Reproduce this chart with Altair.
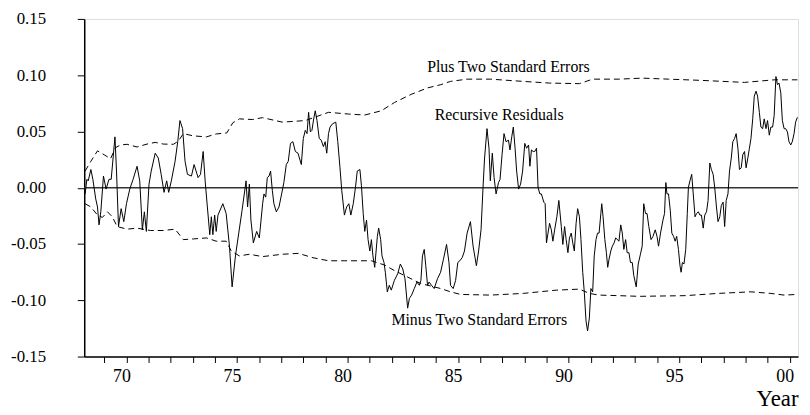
import altair as alt
import pandas as pd

# Recursive residuals (decimal year, value)
resid_year = [68.13, 68.21, 68.27, 68.39, 68.48, 68.61, 68.69, 68.76, 68.84, 68.96, 69.08, 69.21, 69.31, 69.48, 69.55,
              69.64, 69.76, 69.88, 70.00, 70.15, 70.30, 70.48, 70.60, 70.72, 70.81, 70.90, 71.02, 71.12, 71.30, 71.44,
              71.57, 71.70, 71.82, 71.91, 72.03, 72.20, 72.32, 72.42, 72.54, 72.65, 72.76, 72.94, 73.06, 73.24, 73.35,
              73.47, 73.56, 73.66, 73.77, 73.84, 73.91, 73.99, 74.06, 74.14, 74.36, 74.51, 74.66, 74.78, 74.93, 75.08,
              75.23, 75.41, 75.48, 75.56, 75.63, 75.74, 75.89, 76.01, 76.16,
              76.22, 76.30, 76.37, 76.45, 76.52, 76.60, 76.67, 76.78, 76.90, 77.02, 77.12, 77.23, 77.32, 77.42, 77.53,
              77.64, 77.76, 77.91, 78.00, 78.09, 78.17, 78.24, 78.32, 78.39, 78.47, 78.54, 78.62, 78.72, 78.81, 78.91,
              78.99, 79.06, 79.14, 79.21, 79.32, 79.47, 79.56, 79.66, 79.74, 79.86, 79.96, 80.06, 80.15, 80.26, 80.36,
              80.44, 80.56, 80.63, 80.71, 80.78, 80.86, 80.93, 81.01, 81.08, 81.15, 81.23, 81.35, 81.41, 81.50, 81.56,
              81.65, 81.71, 81.80, 81.89, 81.98, 82.12, 82.27, 82.39, 82.50, 82.60, 82.72, 82.80, 82.90, 83.02, 83.14,
              83.25, 83.32, 83.39, 83.47, 83.54, 83.62, 83.69, 83.80, 83.92, 84.07, 84.21,
              84.34, 84.48, 84.59, 84.66, 84.78, 84.89, 84.99, 85.08, 85.19, 85.29, 85.41, 85.56, 85.68, 85.83, 85.93,
              86.04, 86.13, 86.20, 86.31, 86.40, 86.46, 86.55, 86.63, 86.72, 86.83, 86.90, 86.99, 87.08, 87.17, 87.28,
              87.35, 87.43, 87.50, 87.58, 87.65, 87.74, 87.83, 87.92, 88.02, 88.10, 88.19, 88.25, 88.32, 88.40, 88.47,
              88.55, 88.62, 88.70, 88.77, 88.88, 88.94, 89.00, 89.07, 89.14, 89.22, 89.29, 89.37, 89.47, 89.56, 89.67,
              89.74, 89.82, 89.89, 89.97, 90.04, 90.12, 90.19, 90.26, 90.34, 90.41, 90.49, 90.56, 90.64, 90.71, 90.79,
              90.86, 90.94, 91.01, 91.09, 91.16, 91.24, 91.31, 91.38, 91.46, 91.50, 91.56, 91.64, 91.71, 91.77, 91.83,
              91.91, 91.98, 92.06, 92.13, 92.28,
              92.36, 92.43, 92.50, 92.58, 92.65, 92.73, 92.80, 92.88, 92.95, 93.06, 93.15, 93.25, 93.33, 93.40, 93.48,
              93.55, 93.63, 93.73, 93.82, 93.92, 94.00, 94.07, 94.16, 94.27, 94.34, 94.40, 94.45, 94.52, 94.60, 94.67,
              94.75, 94.82, 94.89, 94.97, 95.04, 95.09, 95.15, 95.22, 95.30, 95.37, 95.42, 95.49, 95.57, 95.64, 95.72,
              95.79, 95.87, 95.94, 96.01, 96.09, 96.16, 96.24, 96.31, 96.39, 96.46, 96.54, 96.61, 96.69, 96.76, 96.84,
              96.91, 96.99, 97.06, 97.13, 97.21, 97.28, 97.36, 97.43, 97.51, 97.58, 97.66, 97.73, 97.81, 97.88, 97.96,
              98.03, 98.11, 98.18, 98.25, 98.33, 98.40, 98.48, 98.55, 98.63, 98.70, 98.78, 98.85, 98.93, 99.00, 99.08,
              99.15, 99.23, 99.30, 99.38, 99.45, 99.52, 99.60, 99.67, 99.75, 99.82, 99.90, 99.97, 100.05, 100.12, 100.20,
              100.27, 100.35]
resid_val = [-0.0055, 0.0075, 0.0061, 0.0162, 0.0075, -0.0099, -0.0171, -0.0330, -0.0214, 0.0104, -0.0012, 0.0075, 0.0075, 0.0452, 0.0148,
             -0.0345, -0.0186, -0.0301, -0.0142, -0.0012, 0.0075, 0.0191, 0.0061, -0.0374, -0.0214, -0.0388, 0.0032, 0.0148, 0.0307, 0.0264,
             0.0119, -0.0041, 0.0061, -0.0041, 0.0061, 0.0235, 0.0409, 0.0597, 0.0525, 0.0235, 0.0119, 0.0104, 0.0206, 0.0090, 0.0119,
             0.0322, 0.0061, -0.0171, -0.0417, -0.0258, -0.0417, -0.0243, -0.0388, -0.0243, -0.0142, -0.0229, -0.0519, -0.0881, -0.0606, -0.0403,
             -0.0200, 0.0061, -0.0171, 0.0032, -0.0287, -0.0490, -0.0388, -0.0446, -0.0142,
             -0.0055, -0.0084, 0.0090, 0.0104, 0.0148, -0.0026, -0.0142, -0.0214, -0.0171, -0.0055, 0.0046, 0.0206, 0.0235, 0.0394, 0.0409,
             0.0322, 0.0307, 0.0206, 0.0438, 0.0510, 0.0481, 0.0670, 0.0496, 0.0510, 0.0612, 0.0684, 0.0597, 0.0438, 0.0423, 0.0365,
             0.0409, 0.0307, 0.0481, 0.0539, 0.0568, 0.0583, 0.0409, 0.0177, -0.0026, -0.0243, -0.0171, -0.0142, -0.0243, -0.0142, 0.0003,
             0.0148, 0.0162, 0.0017, -0.0229, -0.0388, -0.0287, -0.0461, -0.0562, -0.0461, -0.0606, -0.0707, -0.0432, -0.0359, -0.0461, -0.0606,
             -0.0664, -0.0751, -0.0925, -0.0867, -0.0910, -0.0823, -0.0765, -0.0678, -0.0722, -0.0809, -0.1070, -0.0983, -0.0954, -0.0896, -0.0838,
             -0.0867, -0.0823, -0.0606, -0.0548, -0.0693, -0.0867, -0.0838, -0.0867, -0.0896, -0.0809, -0.0751,
             -0.0635, -0.0504, -0.0664, -0.0867, -0.0896, -0.0823, -0.0664, -0.0649, -0.0620, -0.0562, -0.0403, -0.0301, -0.0519, -0.0693, -0.0562,
             -0.0374, 0.0003, 0.0264, 0.0525, 0.0351, 0.0061, 0.0307, 0.0090, -0.0055, 0.0046, 0.0075, 0.0293, 0.0481, 0.0409, 0.0423,
             0.0336, 0.0452, 0.0539, 0.0351, 0.0148, -0.0012, 0.0032, 0.0148, 0.0394, 0.0351, 0.0380, 0.0191, 0.0336, 0.0322, 0.0322,
             0.0351, 0.0003, -0.0055, -0.0055, -0.0128, -0.0142, -0.0490, -0.0403, -0.0316, -0.0374, -0.0475, -0.0374, -0.0258, -0.0113, -0.0345,
             -0.0504, -0.0345, -0.0461, -0.0577, -0.0446, -0.0403, -0.0490, -0.0562, -0.0316, -0.0186, -0.0258, -0.0461, -0.0751, -0.0925, -0.1186,
             -0.1272, -0.1157, -0.0896, -0.0925, -0.0606, -0.0461, -0.0403, -0.0403, -0.0229, -0.0142, -0.0258, -0.0461, -0.0577, -0.0707, -0.0635,
             -0.0562, -0.0519, -0.0490, -0.0446, -0.0475,
             -0.0330, -0.0403, -0.0548, -0.0461, -0.0577, -0.0577, -0.0664, -0.0664, -0.0780, -0.0881, -0.0678, -0.0591, -0.0519, -0.0142, -0.0229,
             -0.0229, -0.0345, -0.0461, -0.0432, -0.0374, -0.0432, -0.0519, -0.0403, -0.0287, -0.0229, 0.0046, -0.0055, -0.0055, -0.0200, -0.0403,
             -0.0432, -0.0475, -0.0432, -0.0548, -0.0693, -0.0751, -0.0664, -0.0678, -0.0548, -0.0229, 0.0003, 0.0061, 0.0119, -0.0055, -0.0258,
             -0.0229, -0.0214, -0.0243, -0.0243, -0.0359, -0.0243, -0.0214, -0.0113, 0.0220, 0.0162, 0.0119, 0.0003, -0.0171, -0.0301, -0.0258,
             -0.0157, -0.0128, -0.0345, -0.0113, -0.0055, 0.0148, 0.0264, 0.0409, 0.0438, 0.0481, 0.0351, 0.0162, 0.0177, 0.0293, 0.0322,
             0.0177, 0.0264, 0.0351, 0.0438, 0.0612, 0.0814, 0.0858, 0.0814, 0.0670, 0.0539, 0.0525, 0.0612, 0.0525, 0.0597, 0.0467,
             0.0539, 0.0539, 0.0641, 0.0988, 0.0916, 0.0930, 0.0843, 0.0597, 0.0525, 0.0525, 0.0496, 0.0409, 0.0380, 0.0409, 0.0481,
             0.0583, 0.0626]

# Plus two standard errors band
upper_year = [68.13, 68.39, 68.69, 68.99, 69.28, 69.51, 69.73, 70.03, 70.48, 70.93, 71.30, 71.67, 72.12, 72.35, 72.57,
              73.02, 73.62, 74.06, 74.54, 74.81, 75.11, 75.71, 76.15, 77.05, 78.09, 79.14, 80.03, 80.78, 81.53, 82.12,
              82.87, 83.62, 84.22, 84.66, 85.41, 86.46, 87.95, 89.14, 90.49, 90.79, 91.09, 92.28, 93.33, 94.52, 96.01,
              97.96, 99.30, 100.35]
upper_val = [0.0148, 0.0235, 0.0328, 0.0293, 0.0258, 0.0357, 0.0380, 0.0386, 0.0362, 0.0388, 0.0403, 0.0388, 0.0386, 0.0414, 0.0481,
             0.0461, 0.0452, 0.0478, 0.0487, 0.0577, 0.0612, 0.0606, 0.0623, 0.0583, 0.0597, 0.0670, 0.0655, 0.0646, 0.0684, 0.0757,
             0.0829, 0.0887, 0.0916, 0.0945, 0.0965, 0.0965, 0.0945, 0.0930, 0.0925, 0.0945, 0.0965, 0.0965, 0.0974, 0.0965, 0.0954,
             0.0936, 0.0959, 0.0959]

# Minus two standard errors band
lower_year = [68.13, 68.39, 68.69, 68.91, 69.14, 69.36, 69.58, 70.03, 70.48, 71.08, 71.67, 72.20, 72.57, 73.02, 73.62,
              74.06, 74.51, 74.74, 75.11, 75.56, 76.15, 77.05, 77.79, 78.39, 79.14, 79.88, 81.08, 81.68, 82.12, 82.72,
              83.32, 83.92, 84.22, 84.66, 85.11, 86.46, 87.95, 89.44, 90.49, 90.94, 91.38, 92.28, 93.18, 95.27, 96.76,
              98.25, 99.15, 99.75, 100.35]
lower_val = [-0.0142, -0.0171, -0.0243, -0.0264, -0.0214, -0.0258, -0.0345, -0.0368, -0.0359, -0.0380, -0.0380, -0.0368, -0.0461, -0.0455, -0.0446,
             -0.0475, -0.0475, -0.0562, -0.0606, -0.0591, -0.0612, -0.0591, -0.0583, -0.0620, -0.0649, -0.0649, -0.0649, -0.0687, -0.0736, -0.0794,
             -0.0852, -0.0881, -0.0896, -0.0925, -0.0948, -0.0954, -0.0939, -0.0910, -0.0901, -0.0939, -0.0954, -0.0959, -0.0965, -0.0959, -0.0939,
             -0.0925, -0.0939, -0.0954, -0.0948]

# Annotations
label_text = ["Plus Two Standard Errors", "Recursive Residuals", "Minus Two Standard Errors"]
label_year = [87.28, 86.86, 85.96]
label_val = [0.107, 0.0650, -0.118]

y_ticks = [-0.15, -0.10, -0.05, 0.0, 0.05, 0.10, 0.15]
x_ticks = list(range(69, 101))

FONT = "Liberation Serif"

resid = pd.DataFrame({"year": resid_year, "value": resid_val})
upper = pd.DataFrame({"year": upper_year, "value": upper_val})
lower = pd.DataFrame({"year": lower_year, "value": lower_val})
labels = pd.DataFrame({"text": label_text, "year": label_year, "value": label_val})
zero_df = pd.DataFrame({"year": [68.09, 100.38], "value": [0.0, 0.0]})

xscale = alt.Scale(domain=[68.09, 100.38], nice=False, zero=False)
yscale = alt.Scale(domain=[-0.15, 0.15], nice=False, zero=False)

xaxis = alt.Axis(
    values=x_ticks,
    labelExpr="(datum.value % 5 == 0) ? ((datum.value == 100) ? '00' : ('' + datum.value)) : ''",
    tickSize=6, tickColor="black", domainColor="black", domainWidth=1.5,
    labelFont=FONT, labelFontSize=18, labelColor="black", labelPadding=5, labelOffset=-5,
    grid=False, title="Year", titleFont=FONT, titleFontSize=23, titleFontWeight="normal",
    titleColor="black", titleAnchor="end", titleAlign="right", titleX=721, titleY=49,
    titleBaseline="alphabetic", labelFlush=False, labelOverlap=False, labelSeparation=0,
    labelBound=False,
)
yaxis = alt.Axis(
    values=y_ticks,
    labelExpr="replace(format(datum.value, '.2f'), '\u2212', '-')",
    tickSize=7, tickColor="black", domainColor="black", domainWidth=1.5,
    labelFont=FONT, labelFontSize=17, labelColor="black", labelPadding=32,
    grid=False, title=None, labelFlush=False, labelOverlap=False,
)


def enc(chart):
    return chart.encode(
        x=alt.X("year:Q", scale=xscale, axis=xaxis),
        y=alt.Y("value:Q", scale=yscale, axis=yaxis),
    )


zero = enc(alt.Chart(zero_df).mark_line(color="#333333", strokeWidth=1.5))
upper_line = enc(alt.Chart(upper).mark_line(color="black", strokeWidth=1, strokeDash=[6, 4]))
lower_line = enc(alt.Chart(lower).mark_line(color="black", strokeWidth=1, strokeDash=[6, 4]))
resid_line = enc(alt.Chart(resid).mark_line(color="black", strokeWidth=1))
text = enc(alt.Chart(labels).mark_text(font=FONT, fontSize=16, color="black", align="center",
                                        baseline="middle")).encode(text="text:N")

chart = alt.layer(zero, upper_line, lower_line, resid_line, text).properties(
    width=721, height=341,
    autosize=alt.AutoSizeParams(type="none"),
    padding={"left": 77, "top": 9, "right": 4, "bottom": 57},
).configure_view(stroke="black", strokeWidth=1.5).configure(background="white")

chart.save("out.html", embed_options={"renderer": "svg", "actions": False})
